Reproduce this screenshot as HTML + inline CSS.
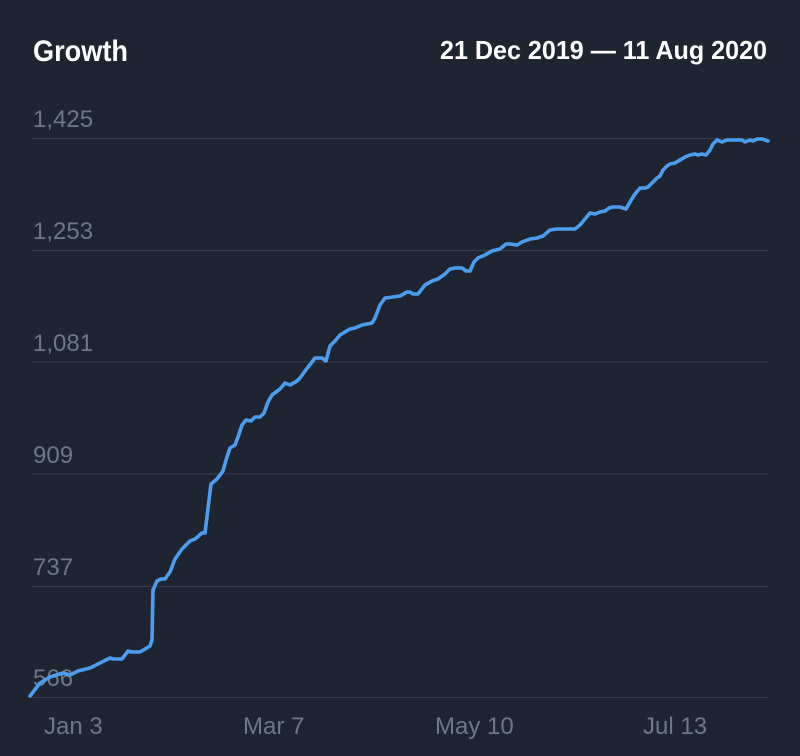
<!DOCTYPE html>
<html><head><meta charset="utf-8"><style>
html,body{margin:0;padding:0;background:#1e2530;}
svg{display:block;}
</style></head><body>
<svg width="800" height="756" viewBox="0 0 800 756" xmlns="http://www.w3.org/2000/svg">
<rect width="800" height="756" fill="#1e2530"/>
<text x="33" y="61" font-family="Liberation Sans, sans-serif" font-size="30" font-weight="bold" fill="#ffffff" textLength="95" lengthAdjust="spacingAndGlyphs">Growth</text>
<text x="440" y="59" font-family="Liberation Sans, sans-serif" font-size="26" font-weight="bold" fill="#ffffff" textLength="327" lengthAdjust="spacingAndGlyphs">21 Dec 2019 — 11 Aug 2020</text>
<g stroke="#333b47" stroke-width="1.2">
<line x1="32" y1="138.5" x2="768" y2="138.5"/>
<line x1="32" y1="250.5" x2="768" y2="250.5"/>
<line x1="32" y1="362" x2="768" y2="362"/>
<line x1="32" y1="474" x2="768" y2="474"/>
<line x1="32" y1="586.5" x2="768" y2="586.5"/>
<line x1="32" y1="697.5" x2="768" y2="697.5"/>
</g>
<g font-family="Liberation Sans, sans-serif" font-size="24" fill="#6d7886">
<text x="33" y="127">1,425</text>
<text x="33" y="239">1,253</text>
<text x="33" y="351">1,081</text>
<text x="33" y="463">909</text>
<text x="33" y="575">737</text>
<text x="33" y="686">566</text>
<text x="44" y="734">Jan 3</text>
<text x="243" y="734">Mar 7</text>
<text x="435" y="734">May 10</text>
<text x="643" y="734">Jul 13</text>
</g>
<polyline fill="none" stroke="#4b9df0" stroke-width="3.6" stroke-linejoin="round" stroke-linecap="round" points="
30,696 40,683 50,677 63,673 70,675 78,671 90,668 100,663 110,658 113,659 122,659 128,651 132,652 140,652 145,649 150,646 152,640 153,590 157,581 161,579 165,579 170,572 175,559 182,549 190,541 195,539 202,533 205,533 211,484 217,479 223,471 226,460 230,448 235,445 238,437 242,425 246,420 251,421 255,417 260,417 264,413 268,402 272,395 280,389 285,383 290,385 297,381 300,378 305,371 312,362 315,358 322,358 326,361 330,346 335,341 340,335 345,332 350,329 355,328 362,325 372,323 375,318 380,305 385,298 393,297 400,296 407,292 410,292 413,294 418,294 425,285 432,281 438,279 445,274 450,269 455,268 462,268 466,271 470,271 474,262 478,258 485,255 492,251 500,249 506,244 510,244 517,245 522,242 530,239 537,238 543,236 550,230 557,229 575,229 580,225 585,219 590,213 595,214 600,212 605,211 609,208 613,207 620,207 626,209 630,202 635,194 640,188 645,188 648,187 652,183 657,178 660,176 663,170 667,166 670,164 675,163 680,160 685,157 690,155 695,154 698,155 702,154 706,155 710,150 713,144 717,140 722,142 727,140 732,140 737,140 742,140 745,142 750,140 753,141 757,139 762,139 768,141"/>
</svg>
</body></html>
